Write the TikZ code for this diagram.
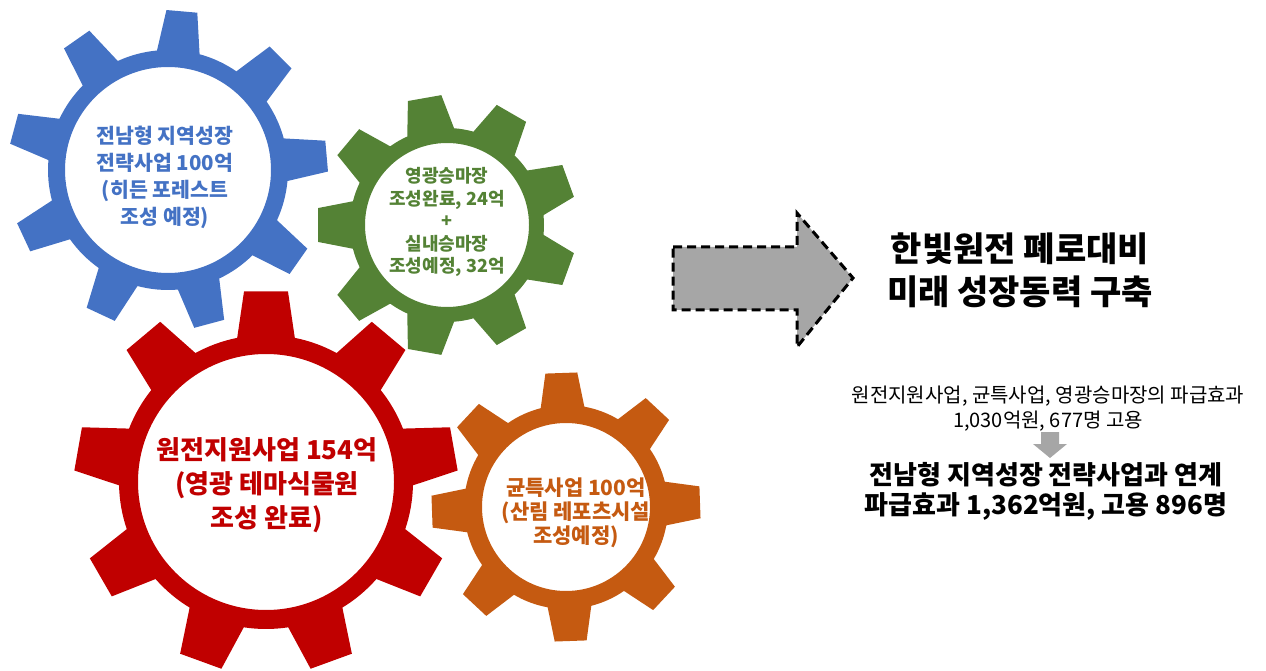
\documentclass[tikz,border=0pt]{standalone}
\usepackage{fontspec}
\setmainfont{Noto Sans CJK KR}
\usetikzlibrary{positioning}

\definecolor{cogblue}{HTML}{4472C4}
\definecolor{coggreen}{HTML}{548235}
\definecolor{cogred}{HTML}{C00000}
\definecolor{cogorange}{HTML}{C55A11}
\definecolor{arrowgray}{HTML}{A6A6A6}

% cog: centre, teeth, first tooth angle, tip r, root r, tip half width, base half width, hole r, colour
\newcommand{\cog}[9]{%
  \pgfmathsetmacro{\cogstep}{360/#2}%
  \pgfmathsetmacro{\cogtip}{deg(#6/#4)}%
  \pgfmathsetmacro{\cogbase}{deg(#7/#5)}%
  \pgfmathtruncatemacro{\coglast}{#2-1}%
  \begin{scope}[shift={(#1)}]
    \fill[#9, even odd rule] ({#3-\cogbase}:#5)
      \foreach \k in {0,...,\coglast}{
        -- ({#3+\k*\cogstep-\cogtip}:#4) -- ({#3+\k*\cogstep+\cogtip}:#4)
        -- ({#3+\k*\cogstep+\cogbase}:#5)
        arc[start angle={#3+\k*\cogstep+\cogbase}, end angle={#3+(\k+1)*\cogstep-\cogbase}, radius=#5]
      } -- cycle
      (0,0) circle[radius=#8];
  \end{scope}}

\begin{document}
\begin{tikzpicture}[x=1pt, y=1pt,
    cogtext/.style={align=center, inner sep=0pt},
    bigarrow/.style={draw=black, fill=arrowgray, line width=3pt, dash pattern=on 9pt off 5pt},
    smallarrow/.style={fill=arrowgray}]
    \useasboundingbox (0,0) rectangle (1266,670);

    % gears
    \cog{168,500}{9}{5}{160}{120}{15.5}{21.5}{103}{cogblue}
    \cog{447,445}{9}{20}{130}{97}{17}{24}{82}{coggreen}
    \cog{266,188}{9}{10}{192}{147}{22}{29}{128}{cogred}
    \cog{566,163}{8}{2}{135}{102}{16}{22}{84}{cogorange}

    \node (blue) [cogtext, text=cogblue, font={\fontsize{20.5}{27}\selectfont\bfseries}] at (165,493)
        {전남형 지역성장\\전략사업 100억\\(히든 포레스트\\조성 예정)};
    \node (green) [cogtext, text=coggreen, font={\fontsize{18}{22.5}\selectfont\bfseries}] at (447,448)
        {영광승마장\\조성완료, 24억\\+\\실내승마장\\조성예정, 32억};
    \node (red) [cogtext, text=cogred, font={\fontsize{26}{34}\selectfont\bfseries}] at (267,185)
        {원전지원사업 154억\\(영광 테마식물원\\조성 완료)};
    \node (orange) [cogtext, text=cogorange, font={\fontsize{21}{24}\selectfont\bfseries}] at (576,157)
        {균특사업 100억\\(산림 레포츠시설\\조성예정)};

    % big arrow
    \draw[bigarrow] (673,423) -- (797,423) -- (797,457) -- (853,392)
        -- (797,323) -- (797,360) -- (673,360) -- cycle;

    \node (goal) [cogtext, font={\fontsize{34}{43}\selectfont\bfseries}] at (1020,400)
        {한빛원전 폐로대비\\미래 성장동력 구축};

    \node (effect) [cogtext, font={\fontsize{20}{25}\selectfont}] at (1048,261)
        {원전지원사업, 균특사업, 영광승마장의 파급효과\\1,030억원, 677명 고용};

    % small arrow
    \fill[smallarrow] (1041,238) -- (1059,238) -- (1059,226) -- (1067,226)
        -- (1050,212) -- (1033,226) -- (1041,226) -- cycle;

    \node (total) [cogtext, font={\fontsize{26}{30}\selectfont\bfseries}] at (1046,179)
        {전남형 지역성장 전략사업과 연계\\파급효과 1,362억원, 고용 896명};
\end{tikzpicture}
\end{document}
